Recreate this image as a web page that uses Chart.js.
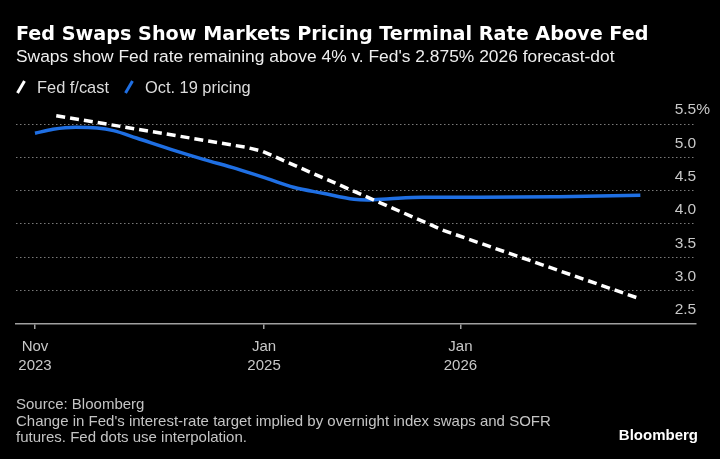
<!DOCTYPE html>
<html>
<head>
<meta charset="utf-8">
<script src="https://cdn.jsdelivr.net/npm/chart.js@4.4.0/dist/chart.umd.min.js"></script>
<style>
  html, body { margin: 0; padding: 0; background: #000; }
  #wrap { position: relative; width: 720px; height: 459px; overflow: hidden; background: #000;
          font-family: "Liberation Sans", Arial, sans-serif; }
  #chart { position: absolute; left: 0; top: 0; }
  .txt { position: absolute; white-space: nowrap; line-height: 1; }
  #title { left: 16px; top: 24px; font-family: "DejaVu Sans"; font-weight: bold; font-size: 19.2px; color: #fff; }
  #subtitle { left: 16px; top: 48px; font-size: 17.4px; color: #eee; }
  #legend { left: 16px; top: 79px; font-size: 16.4px; color: #ddd; }
  #legend svg { vertical-align: -1px; }
  #footer { left: 16px; top: 396px; font-size: 15px; line-height: 16.5px; color: #c4c4c4; }
  #brand { right: 22px; top: 427px; font-size: 15px; font-weight: bold; color: #fff; }
</style>
</head>
<body>
<div id="wrap">
  <canvas id="chart" width="724" height="459"></canvas>
  <div class="txt" id="title">Fed Swaps Show Markets Pricing Terminal Rate Above Fed</div>
  <div class="txt" id="subtitle">Swaps show Fed rate remaining above 4% v. Fed's 2.875% 2026 forecast-dot</div>
  <div class="txt" id="legend"><svg width="10" height="14"><line x1="1.5" y1="13" x2="8.5" y2="1" stroke="#fff" stroke-width="3"/></svg><span style="margin-left:11px">Fed f/cast</span><svg width="10" height="14" style="margin-left:15px"><line x1="1.5" y1="13" x2="8.5" y2="1" stroke="#1f6fe3" stroke-width="3"/></svg><span style="margin-left:11px">Oct. 19 pricing</span></div>
  <div class="txt" id="footer">Source: Bloomberg<br>Change in Fed's interest-rate target implied by overnight index swaps and SOFR<br>futures. Fed dots use interpolation.</div>
  <div class="txt" id="brand">Bloomberg</div>
</div>
<script>
// x values are months counted from Nov 2023
const tickMonths = [0, 14, 26];
const tickLabels = [["Nov", "2023"], ["Jan", "2025"], ["Jan", "2026"]];

const fedMonths = [1.3, 12.9, 13.9, 25, 37];
const fedRates = [5.625, 5.15, 5.09, 3.9, 2.875];

const swapMonths = [0, 1.1, 2.5, 3.8, 4.8, 6.2, 8.3, 10.3, 12.3, 14.2, 15.8, 17.6, 19.5, 20.3, 21.7, 23.7, 27.2, 32, 37];
const swapRates = [5.36, 5.42, 5.45, 5.44, 5.40, 5.29, 5.12, 4.97, 4.83, 4.68, 4.55, 4.46, 4.37, 4.36, 4.38, 4.40, 4.40, 4.41, 4.43];

const toPoints = (xs, ys) => xs.map((x, i) => ({ x: x, y: ys[i] }));

Chart.defaults.font.family = '"Liberation Sans", Arial, sans-serif';

const ctx = document.getElementById("chart").getContext("2d");
new Chart(ctx, {
  type: "line",
  data: {
    datasets: [
      {
        label: "Fed f/cast",
        data: toPoints(fedMonths, fedRates),
        borderColor: "#ffffff",
        borderWidth: 3.5,
        borderDash: [9, 5],
        pointRadius: 0,
        tension: 0,
        clip: false, // first dot (5.625) sits above the 5.5 gridline
      },
      {
        label: "Oct. 19 pricing",
        data: toPoints(swapMonths, swapRates),
        borderColor: "#1f6fe3",
        borderWidth: 3.5,
        pointRadius: 0,
        cubicInterpolationMode: "monotone",
        clip: false,
      },
    ],
  },
  options: {
    responsive: false,
    animation: false,
    // canvas is 4px wider than the page so the mirrored axis lands at x=696
    layout: { padding: { top: 124, left: 16, right: 0, bottom: 76 } },
    plugins: { legend: { display: false }, tooltip: { enabled: false } },
    scales: {
      x: {
        type: "linear",
        min: -1.16,
        max: 40.4,
        afterBuildTicks: (scale) => {
          scale.ticks = tickMonths.map((v) => ({ value: v }));
        },
        ticks: {
          autoSkip: false,
          maxRotation: 0,
          color: "#c8c8c8",
          padding: 8,
          font: { size: 15, lineHeight: 1.27 },
          callback: (value) => tickLabels[tickMonths.indexOf(value)],
        },
        grid: { drawOnChartArea: false, drawTicks: true, tickLength: 5, color: "#a0a0a0", lineWidth: 1.5 },
        border: { display: true, color: "#a0a0a0", width: 1.5 },
      },
      y: {
        position: "right",
        min: 2.5,
        max: 5.5,
        ticks: {
          stepSize: 0.5,
          mirror: true,
          crossAlign: "far",
          padding: 14,
          labelOffset: -14,
          color: "#c8c8c8",
          font: { size: 15.5 },
          callback: (value) => (value === 5.5 ? "5.5%" : value.toFixed(1)),
        },
        grid: {
          drawTicks: false,
          lineWidth: 1,
          color: (c) => (c.tick && c.tick.value === 2.5 ? "rgba(0,0,0,0)" : "#7a7a7a"),
        },
        border: { display: false, dash: [1.5, 2.5] },
      },
    },
  },
});
</script>
</body>
</html>
